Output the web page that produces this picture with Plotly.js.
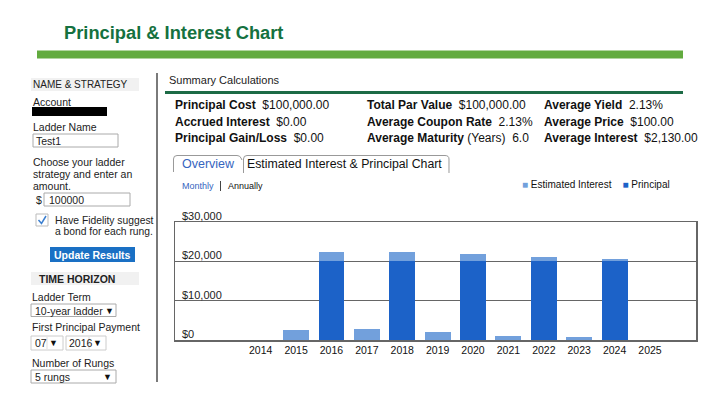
<!DOCTYPE html>
<html>
<head>
<meta charset="utf-8">
<script src="https://cdn.plot.ly/plotly-3.0.1.min.js"></script>
<style>
html,body{margin:0;padding:0;background:#fff;}
#chart{width:725px;height:410px;}
</style>
</head>
<body>
<div id="chart"></div>
<script>
// ---- data ----
const years = [2014, 2015, 2016, 2017, 2018, 2019, 2020, 2021, 2022, 2023, 2024, 2025];
const principal = [0, 0, 20000, 0, 20000, 0, 20000, 0, 20000, 0, 20000, 0];
const interest = [0, 2450, 2300, 2750, 2300, 1950, 1800, 1100, 1050, 750, 600, 0];
const seriesNames = ['Estimated Interest', 'Principal'];
const yTickVals = [0, 10000, 20000, 30000];
const yTickText = ['$0', '$10,000', '$20,000', '$30,000'];

const W = 725, H = 410;
const FONT = 'Arial, "Liberation Sans", Helvetica, sans-serif';
const cPrin = '#1c62c8', cInt = '#72a0dc';

const px = x => x / W;
const py = y => 1 - y / H;

const annotations = [];
const shapes = [];
function txt(text, x, y, o) {
  o = o || {};
  annotations.push({
    xref: 'paper', yref: 'paper', x: px(x), y: py(y),
    xanchor: o.xanchor || 'left', yanchor: 'middle', showarrow: false,
    text: text, borderpad: 0,
    font: {family: FONT, size: o.size || 11, color: o.color || '#222'}
  });
}
function rect(x0, y0, x1, y1, fill, line, lw) {
  shapes.push({type: 'rect', xref: 'paper', yref: 'paper', layer: 'below',
    x0: px(x0), x1: px(x1), y0: py(y0), y1: py(y1),
    fillcolor: fill || 'rgba(0,0,0,0)',
    line: {color: line || 'rgba(0,0,0,0)', width: line ? (lw || 1) : 0}});
}
function line(x0, y0, x1, y1, color, w) {
  shapes.push({type: 'line', xref: 'paper', yref: 'paper',
    x0: px(x0), x1: px(x1), y0: py(y0), y1: py(y1),
    line: {color: color, width: w || 1}});
}
function path(cmds, color, w) {
  let s = '', isX = true;
  for (const c of cmds) {
    if (typeof c === 'string') { s += ' ' + c; isX = true; }
    else { s += ' ' + (isX ? px(c) : py(c)).toFixed(5); isX = !isX; }
  }
  shapes.push({type: 'path', xref: 'paper', yref: 'paper', path: s.trim(),
    line: {color: color, width: w || 1}});
}

// ---- header ----
txt('<b>Principal &amp; Interest Chart</b>', 62.5, 33, {size: 18.3, color: '#157140'});
rect(37, 50.5, 683, 58.5, '#62ab3f');

// ---- left panel ----
rect(31, 78, 139, 91, '#f1f1f1');
txt('NAME &amp; STRATEGY', 32, 84.5, {size: 10, color: '#222'});
txt('Account', 32, 102, {size: 10.5});
rect(32, 107, 107, 116, '#000');
txt('Ladder Name', 32, 126.5, {size: 10.5});
rect(33, 134, 118, 147, '#fff', '#aaa');
txt('Test1', 35, 140.5, {size: 10.5});
txt('Choose your ladder', 32, 162, {size: 10.5});
txt('strategy and enter an', 32, 174, {size: 10.5});
txt('amount.', 32, 186, {size: 10.5});
txt('$', 35, 199.5, {size: 10.5});
rect(44, 193, 130, 206, '#fff', '#aaa');
txt('100000', 48, 199.5, {size: 10.5});
rect(36, 214, 48, 226, '#fff', '#bbb');
path(['M', 38.5, 220, 'L', 41.5, 223.5, 'L', 46, 216], '#3b7fd0', 1.5);
txt('Have Fidelity suggest', 54, 220, {size: 10.3});
txt('a bond for each rung.', 54, 232, {size: 10.3});
rect(50, 247, 135, 262, '#1a70c4');
txt('<b>Update Results</b>', 92.5, 254.5, {size: 10.5, color: '#fff', xanchor: 'center'});
rect(31, 272, 139, 285, '#f1f1f1');
txt('<b>TIME HORIZON</b>', 38, 278.5, {size: 10.5, color: '#222'});
txt('Ladder Term', 31, 297, {size: 10.5});
rect(31, 304, 116, 316.5, '#fff', '#aaa');
txt('10-year ladder', 34, 310.5, {size: 10.5});
txt('▼', 109.5, 310.5, {size: 9, color: '#111', xanchor: 'center'});
txt('First Principal Payment', 31, 326.5, {size: 10.5});
rect(31, 336, 63, 350, '#fff', '#ccc');
line(47, 337, 47, 349, '#ddd', 1);
txt('07', 34, 343, {size: 10.5});
txt('▼', 54, 343, {size: 9, color: '#111', xanchor: 'center'});
rect(66, 336, 106, 350, '#fff', '#ccc');
line(89, 337, 89, 349, '#ddd', 1);
txt('2016', 68, 343, {size: 10.5});
txt('▼', 98, 343, {size: 9, color: '#111', xanchor: 'center'});
txt('Number of Rungs', 31, 363, {size: 10.5});
rect(31, 370, 116, 383, '#fff', '#aaa');
txt('5 rungs', 34, 376.5, {size: 10.5});
txt('▼', 108, 376.5, {size: 9, color: '#111', xanchor: 'center'});
line(157, 73, 157, 382, '#7a7a7a', 2);

// ---- summary ----
txt('Summary Calculations', 168, 80, {size: 11});
line(165, 92.5, 683, 92.5, '#1d6b46', 3);
const S = 12;
txt('<b>Principal Cost</b>&nbsp; $100,000.00', 174, 105, {size: S, color: '#111'});
txt('<b>Accrued Interest</b>&nbsp; $0.00', 174, 121.5, {size: S, color: '#111'});
txt('<b>Principal Gain/Loss</b>&nbsp; $0.00', 174, 138, {size: S, color: '#111'});
txt('<b>Total Par Value</b>&nbsp; $100,000.00', 366, 105, {size: S, color: '#111'});
txt('<b>Average Coupon Rate</b>&nbsp; 2.13%', 366, 121.5, {size: S, color: '#111'});
txt('<b>Average Maturity</b> (Years)&nbsp; 6.0', 366, 138, {size: S, color: '#111'});
txt('<b>Average Yield</b>&nbsp; 2.13%', 543, 105, {size: S, color: '#111'});
txt('<b>Average Price</b>&nbsp; $100.00', 543, 121.5, {size: S, color: '#111'});
txt('<b>Average Interest</b>&nbsp; $2,130.00', 543, 138, {size: S, color: '#111'});

// ---- tabs ----
path(['M', 173.5, 172, 'L', 173.5, 159, 'Q', 173.5, 155.5, 177, 155.5, 'L', 237, 155.5, 'Q', 240, 155.5, 241, 158, 'L', 242, 160], '#999', 1);
path(['M', 243.5, 173, 'L', 243.5, 159, 'Q', 243.5, 155.5, 247, 155.5, 'L', 445, 155.5, 'Q', 449, 155.5, 449, 159, 'L', 449, 173], '#999', 1);
txt('Overview', 181, 163.5, {size: 12.5, color: '#3665c0'});
txt('Estimated Interest &amp; Principal Chart', 246, 163.5, {size: 12.3, color: '#111'});
txt('Monthly', 181, 186, {size: 9, color: '#3665c0'});
line(220.5, 181, 220.5, 191, '#444', 1);
txt('Annually', 227, 186, {size: 9, color: '#111'});

// legend (built from series names)
txt('<span style="color:' + cInt + '">■</span> ' + seriesNames[0] +
    '&nbsp;&nbsp;&nbsp; <span style="color:' + cPrin + '">■</span> ' + seriesNames[1],
    521, 185, {size: 10, color: '#111'});

// y tick labels inside the plot, above gridlines
yTickVals.forEach((v, i) => {
  annotations.push({xref: 'paper', yref: 'y', x: px(181), y: v, xanchor: 'left', yanchor: 'bottom',
    yshift: -1, showarrow: false, text: yTickText[i], borderpad: 0,
    font: {family: FONT, size: 11, color: '#222'}});
});

const traces = [
  {type: 'bar', name: seriesNames[1], x: years, y: principal, width: 0.73,
   marker: {color: cPrin, line: {width: 0}}, hoverinfo: 'skip'},
  {type: 'bar', name: seriesNames[0], x: years, y: interest, width: 0.73,
   marker: {color: cInt, line: {width: 0}}, hoverinfo: 'skip'}
];

const layout = {
  width: W, height: H,
  margin: {l: 0, r: 0, t: 0, b: 0, pad: 0},
  paper_bgcolor: '#fff', plot_bgcolor: '#fff',
  showlegend: false,
  barmode: 'stack',
  font: {family: FONT, color: '#222'},
  xaxis: {
    domain: [px(175), px(696)],
    range: [2011.58, 2026.3],
    tickvals: years, ticktext: years.map(String),
    showgrid: false, zeroline: false, ticks: '',
    showline: true, mirror: true, linecolor: '#666', linewidth: 1.5,
    tickfont: {family: FONT, size: 10.5, color: '#111'},
    fixedrange: true
  },
  yaxis: {
    domain: [py(340), py(222)],
    range: [0, 30000],
    tickvals: yTickVals.slice(1, 3),
    showticklabels: false, ticks: '',
    showgrid: true, gridcolor: '#666', gridwidth: 1,
    zeroline: false,
    showline: true, mirror: true, linecolor: '#666', linewidth: 1.5,
    fixedrange: true
  },
  shapes: shapes,
  annotations: annotations
};

Plotly.newPlot('chart', traces, layout, {displayModeBar: false, staticPlot: true});
</script>
</body>
</html>
